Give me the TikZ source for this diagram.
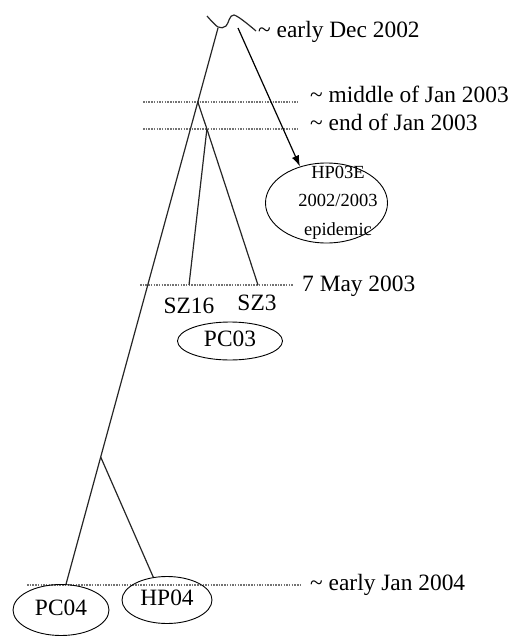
\documentclass[tikz,border=0pt]{standalone}
\usepackage{fontspec}
\setmainfont{Liberation Serif}
\usetikzlibrary{shapes.geometric,arrows.meta}

\begin{document}
\begin{tikzpicture}[x=1pt,y=-1pt,
  branch/.style={line width=1.2pt, draw=black!85},
  guide/.style={draw=black!55, line width=1.1pt, dash pattern=on 1.5pt off 1.2pt},
  datelabel/.style={anchor=base west, inner sep=0pt, font=\fontsize{23.4}{28}\selectfont},
  tiplabel/.style={anchor=base, inner sep=0pt, font=\fontsize{23.4}{28}\selectfont},
  group/.style={ellipse, draw, line width=0.9pt, inner sep=0pt,
    font=\fontsize{23.4}{28}\selectfont, text height=1em, text depth=0pt},
  pointer/.style={line width=1.2pt, -{Latex[length=11pt,width=7.5pt]}}
]
\useasboundingbox (0,0) rectangle (515,637);

% time guides
\draw[guide] (143,102) -- (298,102);
\draw[guide] (143,129) -- (298,129);
\draw[guide] (140,285) -- (293,285);
\draw[guide] (27,585) -- (300,585);

% date labels
\node[datelabel] (dec02) at (258,37) {\textasciitilde\ early Dec 2002};
\node[datelabel] (midjan03) at (310,102) {\textasciitilde\ middle of Jan 2003};
\node[datelabel] (endjan03) at (310,130) {\textasciitilde\ end of Jan 2003};
\node[datelabel] (may03) at (302,291) {7 May 2003};
\node[datelabel] (jan04) at (310,590) {\textasciitilde\ early Jan 2004};

% clusters
\node[group, minimum width=105pt, minimum height=38pt] (pc03) at (230,341) {PC03};
\node[group, minimum width=96pt, minimum height=51pt] (pc04) at (61,610) {PC04};
\node[group, minimum width=90pt, minimum height=47pt] (hp04) at (167,600) {HP04};
\node[ellipse, draw, line width=0.9pt, inner sep=0pt,
      minimum width=122pt, minimum height=80pt] (hp03e) at (326.5,203) {};
\node[align=center, inner sep=0pt,
      font=\fontsize{18.5}{28.5}\selectfont] (hp03etext) at (338,202.4)
      {HP03E\\2002/2003\\epidemic};

% tips
\node[tiplabel] (sz16) at (189,313) {SZ16};
\node[tiplabel] (sz3) at (257,310) {SZ3};

% branch points
\coordinate (root) at (218,28);
\coordinate (jan1) at (197.8,102);
\coordinate (jan2) at (206.9,129);
\coordinate (sz16tip) at (189,285);
\coordinate (sz3tip) at (258,285);
\coordinate (split04) at (100.7,457);
\coordinate (arrowfrom) at (238,28);

% origin squiggle
\draw[branch] plot[smooth, tension=0.55] coordinates
  {(207,16) (218,27) (226,26) (234,15) (256,31)};

% tree
\draw[branch] (root) -- (jan1) -- (split04) -- (pc04.79);
\draw[branch] (jan1) -- (jan2) -- (sz3tip);
\draw[branch] (jan2) -- (sz16tip);
\draw[branch] (split04) -- (hp04.121);
\draw[pointer] (arrowfrom) -- (hp03e.126);

\end{tikzpicture}
\end{document}
